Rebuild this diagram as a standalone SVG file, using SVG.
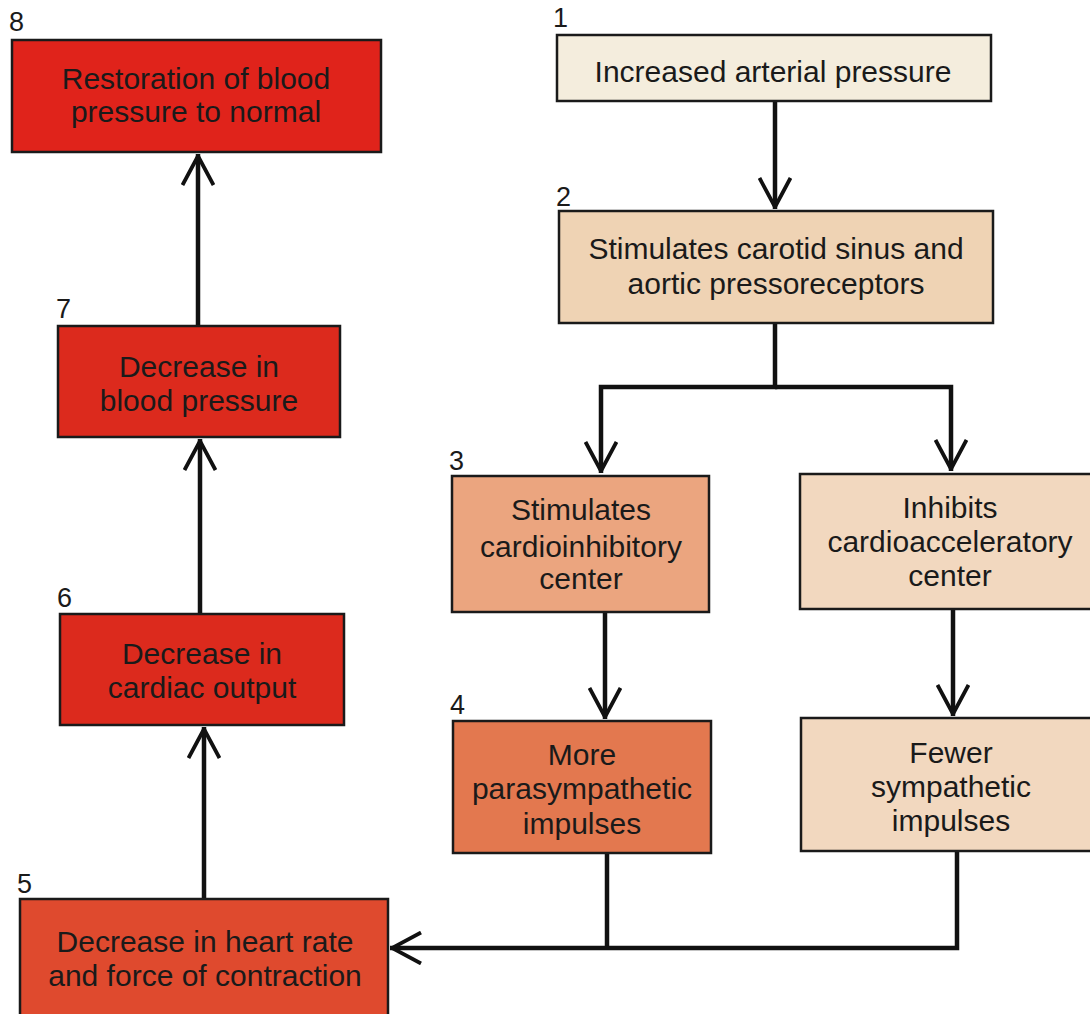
<svg xmlns="http://www.w3.org/2000/svg" width="1090" height="1014" viewBox="0 0 1090 1014">
<defs>
<marker id="ah" viewBox="0 0 32 34" refX="32" refY="17" markerWidth="32" markerHeight="34" markerUnits="userSpaceOnUse" orient="auto">
<path d="M1,1.5 L30,17 L1,32.5" fill="none" stroke="#111" stroke-width="3.8"/>
</marker>
</defs>
<style>
.box{stroke:#1a1a1a;stroke-width:2.5}
.t{font-family:"Liberation Sans",Arial,sans-serif;font-size:30px;fill:#1a1a1a;text-anchor:middle}
.n{font-family:"Liberation Sans",Arial,sans-serif;font-size:27px;fill:#1a1a1a}
.c{fill:none;stroke:#111;stroke-width:4.5}
</style>
<rect width="1090" height="1014" fill="#fff"/>
<g id="connectors">
<path class="c" d="M775,101 V209" marker-end="url(#ah)"/>
<path class="c" d="M775,323 V387 H601 V473" marker-end="url(#ah)"/>
<path class="c" d="M775,387 H951 V471" marker-end="url(#ah)"/>
<path class="c" d="M605,612 V719" marker-end="url(#ah)"/>
<path class="c" d="M953,609 V716" marker-end="url(#ah)"/>
<path class="c" d="M607,853 V950"/>
<path class="c" d="M957,851 V948 H390" marker-end="url(#ah)"/>
<path class="c" d="M204,898 V727" marker-end="url(#ah)"/>
<path class="c" d="M200,614 V439" marker-end="url(#ah)"/>
<path class="c" d="M198,326 V154" marker-end="url(#ah)"/>
</g>
<g id="n1">
<text class="n" x="553" y="27">1</text>
<rect class="box" x="557" y="35" width="434" height="66" fill="#f4eddd"/>
<text class="t" x="773" y="82">Increased arterial pressure</text>
</g>
<g id="n2">
<text class="n" x="556" y="206">2</text>
<rect class="box" x="559" y="211" width="434" height="112" fill="#efd3b4"/>
<text class="t" x="776" y="259">Stimulates carotid sinus and</text>
<text class="t" x="776" y="294">aortic pressoreceptors</text>
</g>
<g id="n3">
<text class="n" x="449" y="470">3</text>
<rect class="box" x="452" y="476" width="257" height="136" fill="#eba57f"/>
<text class="t" x="581" y="520">Stimulates</text>
<text class="t" x="581" y="557">cardioinhibitory</text>
<text class="t" x="581" y="589">center</text>
</g>
<g id="n3b">
<rect class="box" x="800" y="474" width="292" height="135" fill="#f2d8bf"/>
<text class="t" x="950" y="518">Inhibits</text>
<text class="t" x="950" y="552">cardioacceleratory</text>
<text class="t" x="950" y="586">center</text>
</g>
<g id="n4">
<text class="n" x="450" y="714">4</text>
<rect class="box" x="453" y="721" width="258" height="132" fill="#e3784f"/>
<text class="t" x="582" y="765">More</text>
<text class="t" x="582" y="799">parasympathetic</text>
<text class="t" x="582" y="834">impulses</text>
</g>
<g id="n4b">
<rect class="box" x="801" y="718" width="292" height="133" fill="#f2d8bf"/>
<text class="t" x="951" y="763">Fewer</text>
<text class="t" x="951" y="797">sympathetic</text>
<text class="t" x="951" y="831">impulses</text>
</g>
<g id="n5">
<text class="n" x="17" y="893">5</text>
<rect class="box" x="20" y="899" width="368" height="120" fill="#df4a2e"/>
<text class="t" x="205" y="952">Decrease in heart rate</text>
<text class="t" x="205" y="986">and force of contraction</text>
</g>
<g id="n6">
<text class="n" x="57" y="607">6</text>
<rect class="box" x="60" y="614" width="284" height="111" fill="#dc2a1d"/>
<text class="t" x="202" y="664">Decrease in</text>
<text class="t" x="202" y="698">cardiac output</text>
</g>
<g id="n7">
<text class="n" x="56" y="318">7</text>
<rect class="box" x="58" y="326" width="282" height="111" fill="#dc2a1d"/>
<text class="t" x="199" y="377">Decrease in</text>
<text class="t" x="199" y="411">blood pressure</text>
</g>
<g id="n8">
<text class="n" x="9" y="31">8</text>
<rect class="box" x="12" y="40" width="369" height="112" fill="#e0231b"/>
<text class="t" x="196" y="89">Restoration of blood</text>
<text class="t" x="196" y="122">pressure to normal</text>
</g>
</svg>
